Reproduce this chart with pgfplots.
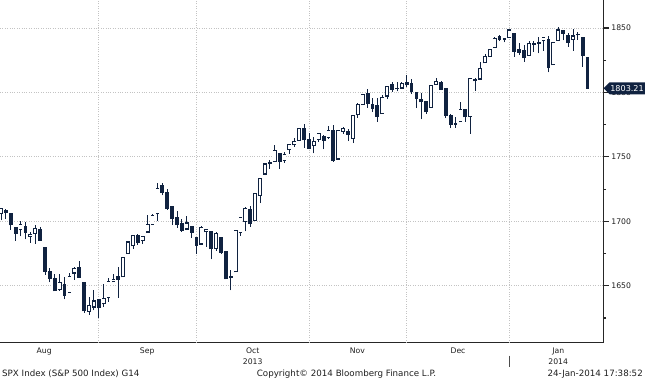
\documentclass[border=0pt]{standalone}
\usepackage{fontspec}
\setmainfont{DejaVu Sans}
\usepackage{pgfplots}
\usepackage{pgfplotstable}
\pgfplotsset{compat=1.18}
\usetikzlibrary{calc}
\definecolor{cdark}{RGB}{16,34,64}
\definecolor{gridc}{RGB}{195,195,195}
\definecolor{txt}{RGB}{30,30,30}

% i = trading day (0 = 2 Aug 2013), o h l c
\pgfplotstableread{
i o h l c
0 1706.10 1709.67 1700.68 1709.67
1 1708.01 1709.24 1701.63 1707.14
2 1705.79 1705.79 1693.29 1697.37
3 1695.30 1695.30 1684.91 1690.91
4 1693.35 1700.18 1688.38 1697.48
5 1696.10 1699.42 1686.02 1691.42
6 1688.37 1691.49 1683.35 1689.47
7 1690.65 1696.81 1682.62 1694.16
8 1693.88 1695.52 1684.83 1685.39
9 1679.61 1679.61 1658.59 1661.32
10 1661.22 1663.60 1652.61 1655.83
11 1655.25 1659.18 1646.08 1646.06
12 1646.81 1658.92 1646.08 1652.35
13 1650.66 1656.99 1639.43 1642.80
14 1645.03 1659.55 1645.03 1656.96
15 1659.92 1664.85 1654.81 1663.50
16 1664.29 1669.51 1656.02 1656.78
17 1652.54 1652.54 1629.05 1630.48
18 1630.25 1641.18 1627.47 1634.96
19 1633.50 1646.41 1630.88 1638.17
20 1638.89 1640.08 1625.27 1632.97
21 1635.95 1651.35 1633.41 1639.77
22 1640.72 1655.72 1637.41 1653.08
23 1653.28 1659.17 1653.07 1655.08
24 1657.44 1664.83 1640.62 1655.17
25 1656.85 1672.40 1656.85 1671.71
26 1675.11 1684.09 1675.11 1683.99
27 1681.04 1689.13 1678.70 1689.13
28 1689.21 1689.97 1681.96 1683.42
29 1685.04 1688.73 1682.22 1687.99
30 1691.70 1704.95 1691.70 1697.60
31 1697.73 1705.52 1697.73 1704.76
32 1705.74 1729.44 1700.35 1725.52
33 1727.34 1729.86 1720.20 1722.34
34 1722.44 1725.23 1708.89 1709.91
35 1711.44 1711.44 1697.10 1701.84
36 1702.60 1707.63 1694.90 1697.42
37 1698.02 1701.71 1691.88 1692.77
38 1694.05 1703.85 1693.11 1698.67
39 1695.52 1695.52 1687.11 1691.75
40 1687.26 1687.26 1674.99 1681.55
41 1682.41 1696.55 1682.07 1695.00
42 1691.90 1693.87 1680.34 1693.87
43 1692.35 1692.35 1670.36 1678.66
44 1678.79 1691.94 1677.33 1690.50
45 1687.15 1687.15 1674.70 1676.12
46 1676.22 1676.79 1655.03 1655.45
47 1656.99 1662.47 1646.47 1656.40
48 1660.88 1692.56 1660.88 1692.56
49 1691.09 1703.44 1688.52 1703.20
50 1699.86 1711.03 1692.13 1710.14
51 1709.17 1711.57 1695.93 1698.06
52 1700.49 1721.76 1700.49 1721.54
53 1720.17 1733.45 1714.12 1733.15
54 1736.72 1745.31 1735.74 1744.50
55 1745.20 1747.79 1740.67 1744.66
56 1746.48 1759.33 1746.48 1754.67
57 1752.27 1752.27 1740.50 1746.38
58 1747.48 1753.94 1745.50 1752.07
59 1756.01 1759.82 1752.45 1759.77
60 1759.42 1764.99 1757.67 1762.11
61 1762.93 1772.09 1762.93 1771.95
62 1772.27 1775.22 1757.24 1763.31
63 1763.24 1768.53 1755.72 1756.54
64 1758.70 1765.67 1752.70 1761.64
65 1763.40 1768.78 1761.56 1767.93
66 1765.67 1767.03 1755.76 1762.97
67 1765.00 1773.74 1764.23 1770.49
68 1770.74 1774.54 1746.20 1747.15
69 1748.37 1770.78 1747.63 1770.61
70 1769.96 1773.44 1767.85 1771.89
71 1769.51 1771.78 1762.29 1767.69
72 1764.37 1782.00 1760.64 1782.00
73 1782.75 1791.53 1780.22 1790.62
74 1790.66 1798.22 1790.66 1798.18
75 1798.82 1802.33 1788.00 1791.53
76 1790.79 1795.51 1784.72 1787.87
77 1789.59 1795.73 1777.23 1781.37
78 1783.52 1798.15 1783.52 1795.85
79 1797.21 1804.84 1794.70 1804.76
80 1806.33 1808.10 1800.58 1802.48
81 1802.87 1808.42 1800.77 1802.75
82 1803.48 1808.27 1802.77 1807.23
83 1808.01 1813.55 1803.98 1805.81
84 1806.55 1810.02 1798.60 1800.90
85 1800.10 1800.10 1787.85 1795.15
86 1794.08 1799.80 1779.09 1792.81
87 1792.82 1792.82 1783.38 1785.03
88 1788.36 1806.04 1788.36 1805.09
89 1806.21 1811.52 1806.21 1808.37
90 1807.60 1808.52 1801.75 1802.62
91 1802.76 1802.97 1780.09 1782.22
92 1781.71 1782.99 1772.28 1775.50
93 1776.01 1780.92 1772.45 1775.32
94 1777.48 1792.22 1777.48 1786.54
95 1786.77 1786.77 1777.05 1781.00
96 1781.46 1811.08 1767.99 1810.65
97 1809.00 1810.88 1801.35 1809.60
98 1810.39 1823.75 1810.25 1818.32
99 1822.92 1829.75 1822.92 1827.99
100 1828.02 1833.32 1828.02 1833.32
101 1834.96 1842.84 1834.96 1842.02
102 1842.97 1844.89 1839.81 1841.40
103 1841.47 1842.47 1838.77 1841.07
104 1842.61 1849.44 1842.41 1848.36
105 1845.86 1845.86 1827.74 1831.98
106 1833.21 1838.24 1829.13 1831.37
107 1832.31 1837.16 1823.73 1826.77
108 1828.71 1840.10 1828.71 1837.88
109 1837.90 1840.02 1831.40 1837.49
110 1839.00 1843.23 1830.38 1838.13
111 1840.06 1843.15 1832.43 1842.37
112 1841.26 1843.45 1815.52 1819.20
113 1821.36 1839.26 1821.36 1838.88
114 1840.52 1850.84 1840.52 1848.38
115 1847.99 1847.99 1840.30 1845.89
116 1844.23 1846.04 1835.23 1838.70
117 1841.05 1849.31 1832.38 1843.80
118 1844.71 1846.87 1840.88 1844.86
119 1842.29 1842.29 1820.06 1828.46
120 1826.96 1826.96 1803.21 1803.21
}\ohlc

\begin{document}
\begin{tikzpicture}[x=1pt,y=1pt]
\path[use as bounding box] (0,-37.3) rectangle (645,342.7);
\begin{axis}[
  at={(0,0)}, anchor=south west,
  scale only axis, width=603.7pt, height=342.7pt,
  xmin=-0.2, xmax=123.3, ymin=1605.8, ymax=1871.7,
  axis x line*=bottom, axis y line*=right,
  axis line style={line width=1pt, draw=black!85},
  tick align=outside,
  major tick length=5pt, minor tick length=2.5pt,
  ytick={1650,1700,1750,1800,1850},
  yticklabels={1650,1700,1750,1800,1850},
  minor ytick={1625,1675,1725,1775,1825},
  ytick style={line width=1.1pt, draw=black!85},
  minor tick style={line width=0.9pt, draw=black!85},
  ymajorgrids,
  grid style={gridc, line width=0.8pt, dash pattern=on 0.8pt off 1.6pt},
  yticklabel style={font=\fontsize{7.7}{9}\selectfont, text=txt, inner sep=0pt, xshift=2.5pt},
  xtick={8.85,29.9,51.5,72.9,93.5,114},
  xticklabels={Aug,Sep,{Oct\\2013},Nov,Dec,{Jan\\2014}},
  xtick style={draw=none},
  xticklabel style={font=\fontsize{7.7}{11}\selectfont, text=txt, align=center, inner sep=0pt},
  extra x ticks={20,40,63,83,104},
  extra x tick labels={},
  extra x tick style={grid=major, major tick length=2.5pt, tick style={draw=black!85, line width=0.9pt}},
  clip=true,
]
% wicks: low to high
\addplot[draw=none, mark=none, error bars/.cd, y dir=plus, y explicit, error mark=none,
  error bar style={draw=cdark, solid, line width=0.75pt}]
  table[x=i, y=l, y error plus expr=\thisrow{h}-\thisrow{l}] {\ohlc};
% body outline (all candles), dark
\addplot[draw=none, mark=none, error bars/.cd, y dir=plus, y explicit, error mark=none,
  error bar style={draw=cdark, solid, line width=3.8pt, line cap=butt}]
  table[x=i, y expr={min(\thisrow{o},\thisrow{c})-0.45},
        y error plus expr={abs(\thisrow{o}-\thisrow{c})+0.9}] {\ohlc};
% white inside of rising candles
\addplot[draw=none, mark=none, error bars/.cd, y dir=plus, y explicit, error mark=none,
  error bar style={draw=white, solid, line width=2.5pt, line cap=butt}]
  table[x=i, y expr={\thisrow{o}+0.45},
        y error plus expr={max(\thisrow{c}-\thisrow{o}-0.9,0)}] {\ohlc};
\coordinate (tag) at (axis cs:123.3,1803.21);
\coordinate (ysep) at (axis cs:104,1605.8);
\end{axis}
\fill[cdark] (tag) -- ($(tag)+(6,6)$) -- ($(tag)+(41.3,6)$) -- ($(tag)+(41.3,-6)$) -- ($(tag)+(6,-6)$) -- cycle;
\node[text=white, font=\fontsize{8.1}{9}\selectfont, anchor=west, inner sep=0pt] at ($(tag)+(6.4,0)$) {1803.21};
\draw[black!70, line width=0.8pt] ($(ysep)+(0,-12.8)$) -- ($(ysep)+(0,-24)$);
\node[anchor=base west, inner sep=0pt, text=txt, font=\fontsize{8.7}{10}\selectfont] at (2,-33.5) {SPX Index (S\&P 500 Index) G14};
\node[anchor=base west, inner sep=0pt, text=txt, font=\fontsize{8.7}{10}\selectfont] at (256.7,-33.5) {Copyright© 2014 Bloomberg Finance L.P.};
\node[anchor=base east, inner sep=0pt, text=txt, font=\fontsize{8.7}{10}\selectfont] at (643,-33.5) {24-Jan-2014 17:38:52};
\end{tikzpicture}
\end{document}
